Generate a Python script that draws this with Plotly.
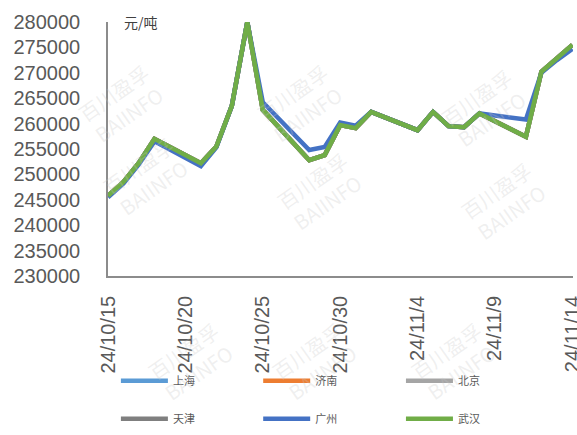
import plotly.graph_objects as go

# Trading days (weekdays) from 2024-10-15 to 2024-11-14
dates = [
    "2024-10-15", "2024-10-16", "2024-10-17", "2024-10-18",
    "2024-10-21", "2024-10-22", "2024-10-23", "2024-10-24", "2024-10-25",
    "2024-10-28", "2024-10-29", "2024-10-30", "2024-10-31", "2024-11-01",
    "2024-11-04", "2024-11-05", "2024-11-06", "2024-11-07", "2024-11-08",
    "2024-11-11", "2024-11-12", "2024-11-13", "2024-11-14",
]

# 元/吨
wuhan = [245800, 248500, 252300, 257000,
         252200, 255500, 263500, 280000, 262700,
         252800, 253800, 259700, 259100, 262300,
         258700, 262300, 259500, 259300, 262000,
         257400, 270200, 273000, 275500]
shanghai = list(wuhan)
jinan = list(wuhan)
beijing = list(wuhan)
tianjin = list(wuhan)
guangzhou = [245500, 248200, 252000, 256500,
             251600, 255300, 263500, 280000, 264200,
             254800, 255400, 260200, 259600, 262300,
             258700, 262300, 259500, 259300, 262000,
             260800, 270000, 272500, 274700]

series_names = ["上海", "济南", "北京", "天津", "广州", "武汉"]
series_values = [shanghai, jinan, beijing, tianjin, guangzhou, wuhan]
series_colors = ["#5B9BD5", "#ED7D31", "#A5A5A5", "#7F7F7F", "#4472C4", "#70AD47"]
# legend column of each series (three columns, two rows)
series_legends = ["legend", "legend2", "legend3", "legend", "legend2", "legend3"]

x_ticks = ["2024-10-15", "2024-10-20", "2024-10-25", "2024-10-30",
           "2024-11-04", "2024-11-09", "2024-11-14"]
x_tick_labels = ["24/10/15", "24/10/20", "24/10/25", "24/10/30",
                 "24/11/4", "24/11/9", "24/11/14"]
y_ticks = list(range(230000, 280001, 5000))

fig = go.Figure()
for name, vals, col, lg in zip(series_names, series_values, series_colors, series_legends):
    fig.add_trace(go.Scatter(
        x=dates, y=vals, name=name, mode="lines",
        line=dict(color=col, width=4.5),
        legend=lg, legendgroup=name,
    ))

axis_font = dict(family="Liberation Sans, Arial, sans-serif", size=20, color="#595959")
legend_font = dict(family="Noto Sans CJK SC", size=11, color="#595959")


def column_legend(xpos):
    return dict(
        orientation="v",
        x=xpos, xanchor="left",
        yref="container", y=0.158, yanchor="top",
        itemwidth=47,
        font=legend_font,
        tracegroupgap=19,
        traceorder="grouped",
        bgcolor="rgba(0,0,0,0)",
    )


fig.update_layout(
    width=577, height=435,
    margin=dict(l=108, r=4, t=22, b=159, autoexpand=False),
    paper_bgcolor="white", plot_bgcolor="white",
    showlegend=True,
    legend=column_legend(0.017),
    legend2=column_legend(0.323),
    legend3=column_legend(0.630),
    xaxis=dict(
        type="date",
        range=["2024-10-15", "2024-11-14 01:00"],
        tickvals=x_ticks,
        ticktext=x_tick_labels,
        tickangle=-90,
        tickfont=axis_font,
        showgrid=False, zeroline=False,
        showline=True, linecolor="#8C8C8C", linewidth=1.5,
        ticks="", ticklabelstandoff=10,
        ticklabeloverflow="allow",
        automargin=False,
    ),
    yaxis=dict(
        range=[230000, 280000],
        tickvals=y_ticks,
        ticktext=[str(v) for v in y_ticks],
        tickfont=axis_font,
        showgrid=False, zeroline=False,
        showline=True, linecolor="#8C8C8C", linewidth=1.5,
        ticks="", ticklabelstandoff=22,
        automargin=False,
    ),
)

# Unit label
fig.add_annotation(
    xref="paper", yref="paper", x=0.03, y=1.0, xanchor="left", yanchor="middle",
    text="元/吨", showarrow=False,
    font=dict(family="Noto Sans CJK SC", size=14, color="#404040"),
)

# Faint brand watermarks
wm_positions = [(70, 55), (300, 55), (535, 60), (95, 225), (320, 240), (555, 250),
                (140, 410), (315, 410), (505, 410)]
for px, py in wm_positions:
    fig.add_annotation(
        xref="paper", yref="paper",
        x=(px - 108) / 465, y=(276 - py) / 254,
        text="百川盈孚<br>BAIINFO", showarrow=False, textangle=-35,
        font=dict(family="Noto Sans CJK SC", size=20, color="rgba(200,200,200,0.28)"),
    )

fig.write_html("out.html")
